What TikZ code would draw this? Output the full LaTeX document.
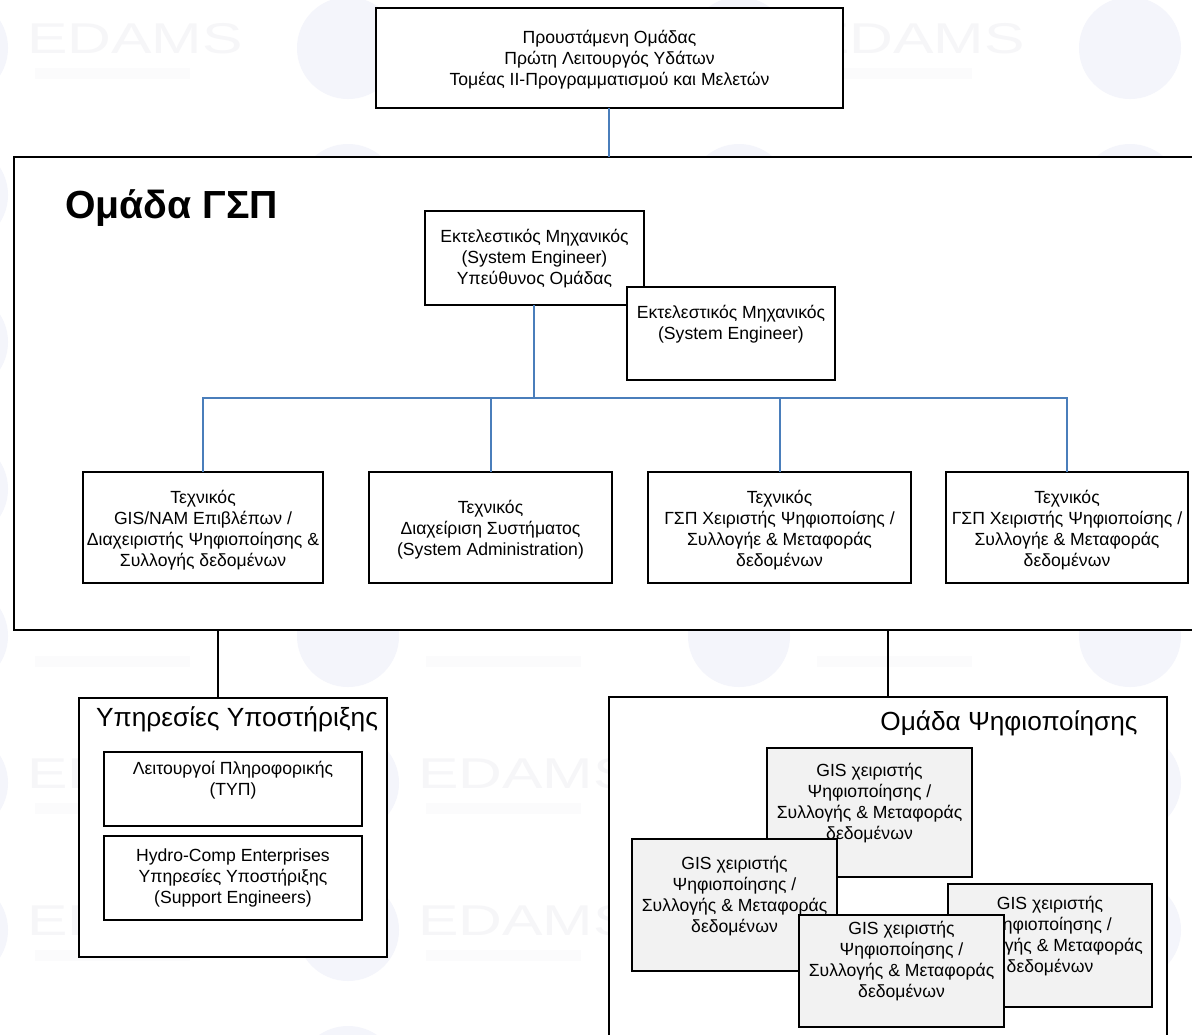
\documentclass[tikz,border=0pt]{standalone}
\usepackage{fontspec}
\setmainfont{Liberation Sans}
\definecolor{linkblue}{HTML}{4A7EBB}
\definecolor{wmblue}{HTML}{F4F5FB}
\definecolor{wmgrey}{HTML}{F6F6F8}
\definecolor{wmpale}{HTML}{FBFBFC}
\definecolor{fillgrey}{HTML}{F2F2F2}
\tikzset{
  x=1bp,y=-1bp,
  framebox/.style={draw=black,line width=1.1bp,fill=white,inner sep=0pt,outer sep=0pt},
  greybox/.style={framebox,fill=fillgrey},
  boxtext/.style={font=\fontsize{17.6bp}{21bp}\selectfont,align=center,anchor=north,inner sep=0pt},
  bluelink/.style={draw=linkblue,line width=1.1bp},
  bluestem/.style={draw=linkblue,line width=2bp},
  blacklink/.style={draw=black,line width=1.1bp},
  wmlogo/.style={circle,fill=wmblue,minimum size=102bp,inner sep=0pt},
  wmtext/.style={font=\fontsize{43bp}{43bp}\selectfont,text=wmgrey,inner sep=0pt,anchor=west,xscale=1.41},
  wmsub/.style={fill=wmpale,inner sep=0pt,minimum width=155bp,minimum height=11bp,anchor=west}
}
% name, x0,y0,x1,y1, style, text top offset, text
\newcommand{\bx}[8]{%
  \node[#6,minimum width={(#4-#2)*1bp},minimum height={(#5-#3)*1bp},
        label={[boxtext,yshift=-#7bp]north:{#8}}] (#1) at ({(#2+#4)/2},{(#3+#5)/2}) {};}
\begin{document}
\begin{tikzpicture}
\useasboundingbox (0,0) rectangle (1192,1035);
\clip (0,0) rectangle (1192,1035);
\fill[white] (0,0) rectangle (1192,1035);
% watermark grid: only the marks that show outside the white boxes
\foreach \j in {0,1,2,3}{
  \foreach \k in {0,...,7}{
    \pgfmathsetmacro{\gx}{int(391*\j)}
    \pgfmathsetmacro{\gy}{int(147*\k)}
    \node[wmlogo] (wl\j\k) at ({\gx-43},{\gy+48}) {};
  }
}
\foreach \n/\x/\y in {a/27/39,b/809/39,c/27/774,d/418/774,e/27/921,f/418/921}{
  \node[wmtext] (wt\n) at (\x,\y) {EDAMS};
  \node[wmsub] (ws\n) at ({\x+8},{\y+34}) {};
}
\foreach \n/\x in {g/35,h/426,i/817}{
  \node[wmsub] (ws\n) at (\x,661) {};
}
% top
\bx{head}{376}{8}{843}{108}{framebox}{22}{Προυστάμενη Ομάδας\\Πρώτη Λειτουργός Υδάτων\\Τομέας ΙΙ-Προγραμματισμού και Μελετών}
% group frame
\bx{group}{14}{157}{1210}{630}{framebox}{0}{}
\node[font=\bfseries\fontsize{39.2bp}{44bp}\selectfont,anchor=west,inner sep=0pt] (grouptitle) at (65,208) {Ομάδα ΓΣΠ};
\draw[linkblue,line width=1.6bp] ([xshift=-0.5bp]head.south) -- ([xshift=-0.5bp]head.south |- group.north);
% leaders
\bx{lead}{425}{211}{644}{305}{framebox}{18}{Εκτελεστικός Μηχανικός\\(System Engineer)\\Υπεύθυνος Ομάδας}
\bx{second}{627}{287}{835}{380}{framebox}{18}{Εκτελεστικός Μηχανικός\\(System Engineer)}
% techs
\bx{techa}{83}{472}{323}{583}{framebox}{18}{Τεχνικός\\GIS/NAM Επιβλέπων /\\Διαχειριστής Ψηφιοποίησης \&\\Συλλογής δεδομένων}
\bx{techb}{369}{472}{612}{583}{framebox}{28}{Τεχνικός\\Διαχείριση Συστήματος\\(System Administration)}
\bx{techc}{648}{472}{911}{583}{framebox}{18}{Τεχνικός\\ΓΣΠ Χειριστής Ψηφιοποίσης /\\Συλλογήε \& Μεταφοράς\\δεδομένων}
\bx{techd}{946}{472}{1188}{583}{framebox}{18}{Τεχνικός\\ΓΣΠ Χειριστής Ψηφιοποίσης /\\Συλλογήε \& Μεταφοράς\\δεδομένων}
\coordinate (bar) at (534,398);
\draw[bluestem] (lead.south -| bar) -- (bar);
\draw[bluelink] (203,472) |- (bar) -| (1067,472);
\draw[bluelink] (491,472) -- (491,398);
\draw[bluelink] (780,472) -- (780,398);
% support
\bx{support}{79}{698}{387}{957}{framebox}{0}{}
\node[font=\fontsize{26.3bp}{30bp}\selectfont,inner sep=0pt] (supporttitle) at (237,719) {Υπηρεσίες Υποστήριξης};
\bx{it}{104}{752}{362}{826}{framebox}{9}{Λειτουργοί Πληροφορικής\\(ΤΥΠ)}
\bx{hydro}{104}{836}{362}{920}{framebox}{13}{Hydro-Comp Enterprises\\Υπηρεσίες Υποστήριξης\\(Support Engineers)}
\draw[blacklink] (218,698) -- (218,630);
% digitising
\bx{digi}{609}{697}{1167}{1060}{framebox}{0}{}
\node[font=\fontsize{26.2bp}{30bp}\selectfont,inner sep=0pt] (digititle) at (1009,723) {Ομάδα Ψηφιοποίησης};
\draw[blacklink] (888,697) -- (888,630);
\bx{opa}{767}{748}{972}{877}{greybox}{15}{GIS χειριστής\\Ψηφιοποίησης /\\Συλλογής \& Μεταφοράς\\δεδομένων}
\bx{opb}{632}{839}{837}{971}{greybox}{17}{GIS χειριστής\\Ψηφιοποίησης /\\Συλλογής \& Μεταφοράς\\δεδομένων}
\bx{opc}{948}{884}{1152}{1007}{greybox}{12}{GIS χειριστής\\Ψηφιοποίησης /\\Συλλογής \& Μεταφοράς\\δεδομένων}
\bx{opd}{799}{915}{1004}{1027}{greybox}{6}{GIS χειριστής\\Ψηφιοποίησης /\\Συλλογής \& Μεταφοράς\\δεδομένων}
\end{tikzpicture}
\end{document}
